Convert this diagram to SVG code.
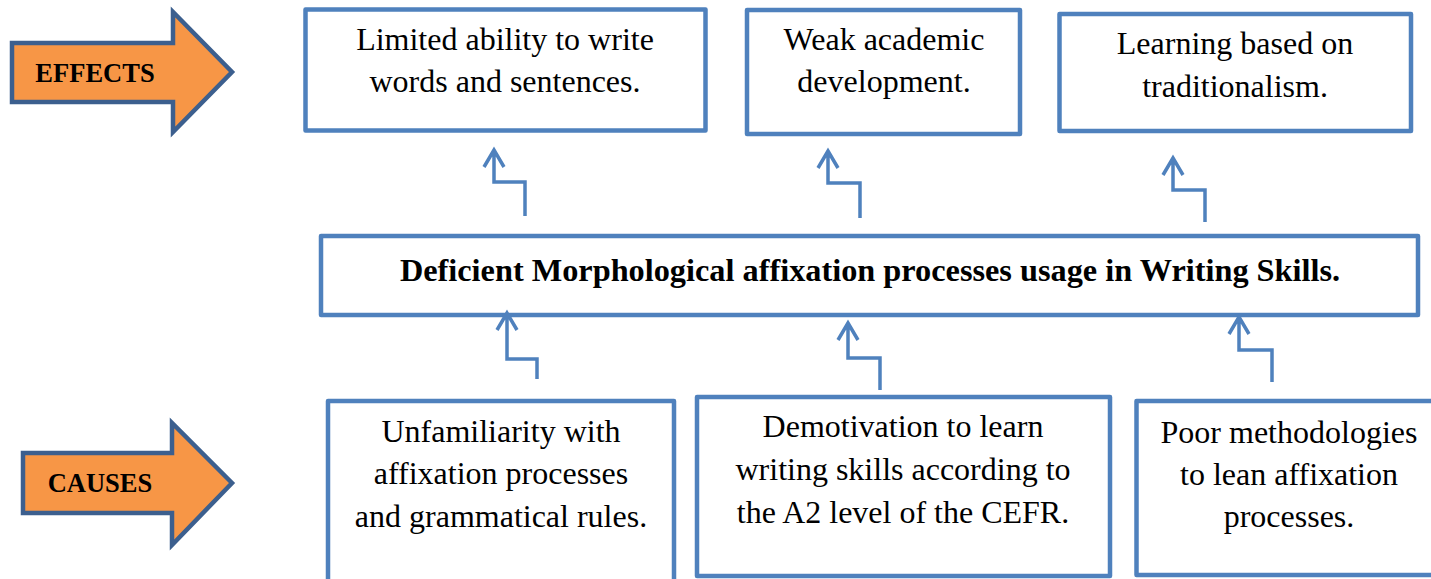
<svg xmlns="http://www.w3.org/2000/svg" width="1431" height="579" viewBox="0 0 1431 579">
  <defs>
    <style>
      .box { fill: #ffffff; stroke: #4F81BD; stroke-width: 4.5; stroke-linejoin: round; }
      .block { fill: #F79646; stroke: #3C5F8E; stroke-width: 4.5; stroke-linejoin: miter; }
      .lbl { font-family: "Liberation Serif", "Times New Roman", serif; font-size: 32px; fill: #000; text-anchor: middle; }
      .bold { font-weight: bold; font-size: 32.3px; }
      .tag { font-family: "Liberation Serif", "Times New Roman", serif; font-size: 26.5px; font-weight: bold; fill: #000; text-anchor: middle; }
      .conn { fill: none; stroke: #4F81BD; stroke-width: 3.5; stroke-linejoin: miter; }
    </style>
  </defs>
  <rect width="1431" height="579" fill="#ffffff"/>

  <!-- side tags -->
  <g id="tag-effects">
    <polygon class="block" points="12,43 173,43 173,12 232,72 173,132 173,102 12,102"/>
    <text class="tag" x="95" y="82">EFFECTS</text>
  </g>
  <g id="tag-causes">
    <polygon class="block" points="23,453 172,453 172,423 232,483 172,545 172,513 23,513"/>
    <text class="tag" x="100" y="492">CAUSES</text>
  </g>

  <!-- effects -->
  <g id="effect-1">
    <rect class="box" x="305.5" y="9.5" width="400" height="121"/>
    <text class="lbl" x="505" y="50">Limited ability to write</text>
    <text class="lbl" x="505" y="92">words and sentences.</text>
  </g>
  <g id="effect-2">
    <rect class="box" x="747" y="10" width="273" height="124"/>
    <text class="lbl" x="884" y="50">Weak academic</text>
    <text class="lbl" x="884" y="92">development.</text>
  </g>
  <g id="effect-3">
    <rect class="box" x="1059.5" y="14" width="351.5" height="117"/>
    <text class="lbl" x="1235" y="54">Learning based on</text>
    <text class="lbl" x="1235" y="97">traditionalism.</text>
  </g>

  <!-- core problem -->
  <g id="problem">
    <rect class="box" x="321" y="236" width="1097" height="79"/>
    <text class="lbl bold" x="870" y="281">Deficient Morphological affixation processes usage in Writing Skills.</text>
  </g>

  <!-- causes -->
  <g id="cause-1">
    <rect class="box" x="328" y="401" width="346" height="190"/>
    <text class="lbl" x="501" y="442">Unfamiliarity with</text>
    <text class="lbl" x="501" y="484">affixation processes</text>
    <text class="lbl" x="501" y="527">and grammatical rules.</text>
  </g>
  <g id="cause-2">
    <rect class="box" x="697" y="397" width="413" height="179"/>
    <text class="lbl" x="903" y="437">Demotivation to learn</text>
    <text class="lbl" x="903" y="480">writing skills according to</text>
    <text class="lbl" x="903" y="523">the A2 level of the CEFR.</text>
  </g>
  <g id="cause-3">
    <rect class="box" x="1136.5" y="401" width="304" height="174"/>
    <text class="lbl" x="1289" y="443">Poor methodologies</text>
    <text class="lbl" x="1289" y="485">to lean affixation</text>
    <text class="lbl" x="1289" y="527">processes.</text>
  </g>

  <!-- elbow connectors with open arrowheads -->
  <g id="connectors">
    <path class="conn" d="M525,216 V182 H494 V151 M484,167 L494,150 L504,167"/>
    <path class="conn" d="M860,218 V183 H828 V152 M818,168 L828,151 L838,168"/>
    <path class="conn" d="M1205,222 V190 H1173 V159 M1163,175 L1173,158 L1183,175"/>
    <path class="conn" d="M537,379 V359 H507 V315 M497,330 L507,313 L517,330"/>
    <path class="conn" d="M880,390 V358 H848 V325 M838,340 L848,323 L858,340"/>
    <path class="conn" d="M1272,382 V350 H1239 V319 M1229,334 L1239,317 L1249,334"/>
  </g>
</svg>
